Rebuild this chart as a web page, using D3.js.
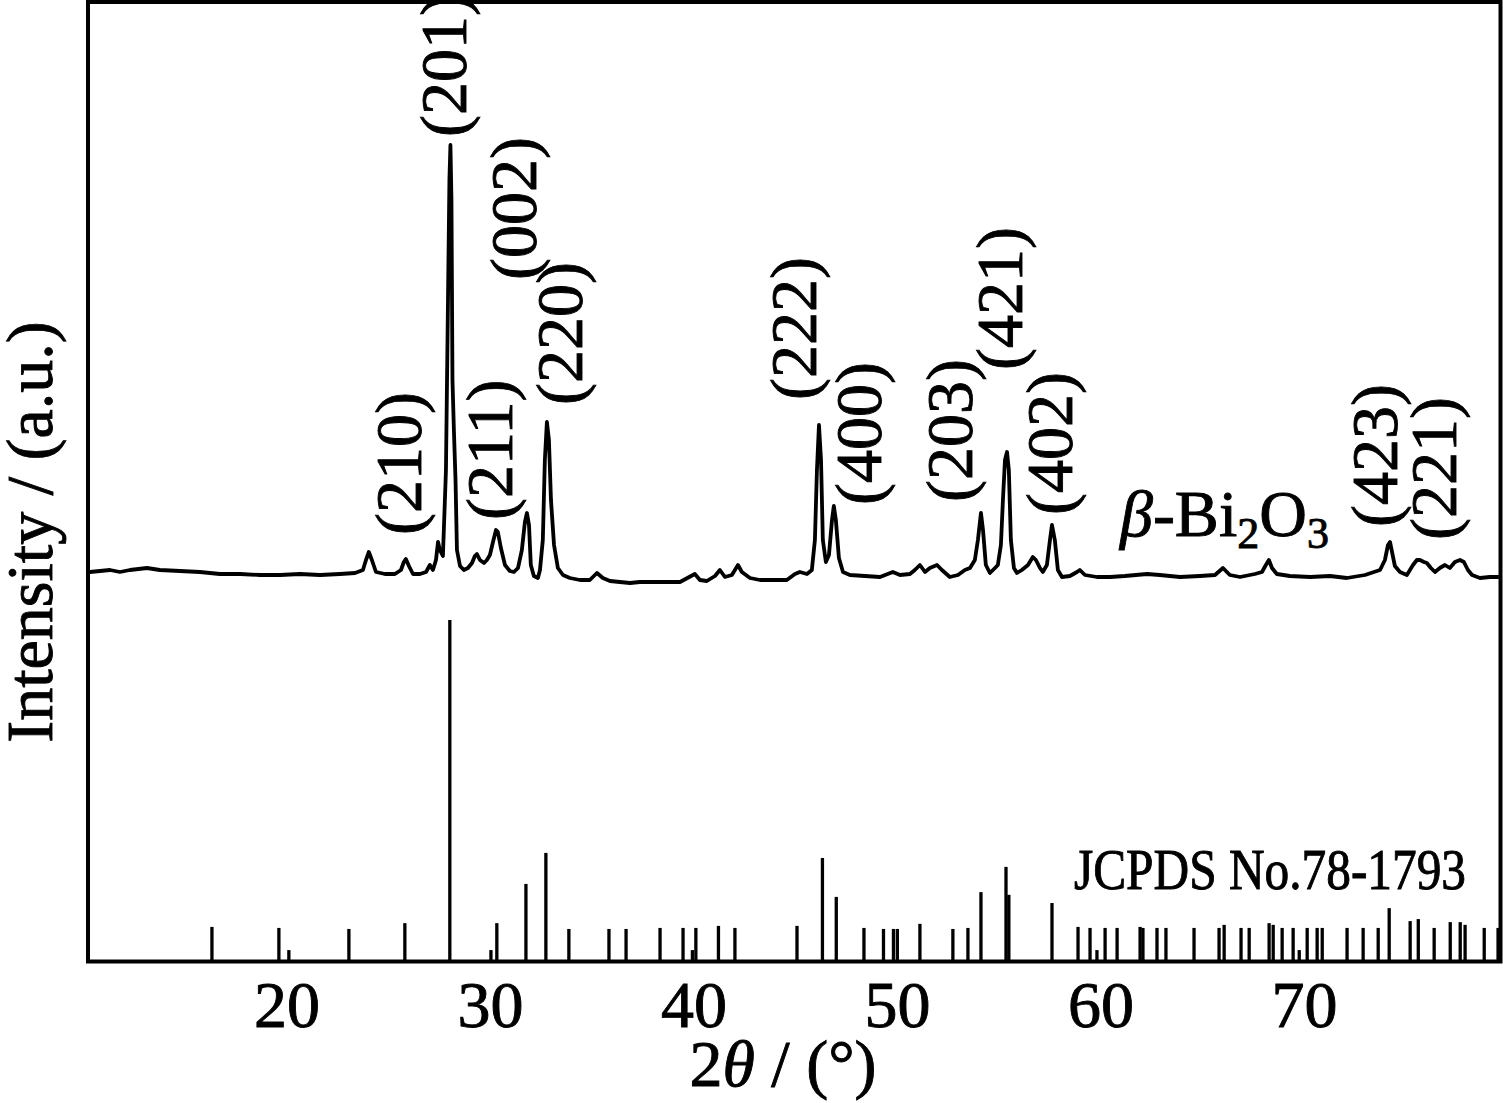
<!DOCTYPE html>
<html><head><meta charset="utf-8">
<script src="https://cdn.jsdelivr.net/npm/d3@7"></script>
<style>body{margin:0;background:#fff}</style>
</head><body>
<svg id="chart" width="1503" height="1103"></svg>
<script>
// ---- data ----
const tickValues = [20, 30, 40, 50, 60, 70];

// measured pattern: 2θ (deg) and intensity (a.u.)
const patternTheta = [10.33,10.83,11.32,11.81,12.30,13.14,13.77,14.76,15.74,16.72,17.71,18.69,19.67,20.65,21.64,22.62,23.36,23.75,23.90,24.04,24.19,24.39,24.83,25.32,25.62,25.76,25.86,26.01,26.21,26.55,26.85,27.04,27.19,27.34,27.44,27.53,27.68,27.83,27.93,28.00,28.05,28.10,28.15,28.22,28.30,28.37,28.52,28.71,28.91,29.11,29.25,29.35,29.50,29.70,29.84,29.99,30.14,30.29,30.38,30.53,30.73,30.97,31.17,31.37,31.56,31.71,31.81,31.91,32.00,32.15,32.35,32.45,32.59,32.69,32.79,32.89,32.99,33.14,33.33,33.58,33.92,34.41,34.90,35.25,35.54,35.89,36.38,36.87,37.36,38.34,39.33,40.06,40.31,40.65,41.05,41.29,41.54,41.88,42.18,42.37,42.77,43.26,43.75,44.58,44.98,45.22,45.57,45.81,45.96,46.06,46.16,46.26,46.35,46.50,46.65,46.80,46.89,46.99,47.14,47.34,47.68,48.42,49.16,49.79,50.14,50.63,50.87,51.12,51.37,51.61,51.96,52.20,52.59,52.99,53.33,53.58,53.82,53.97,54.12,54.22,54.36,54.56,54.81,54.95,55.10,55.20,55.30,55.40,55.49,55.59,55.74,55.89,56.13,56.43,56.67,56.82,57.02,57.16,57.36,57.51,57.61,57.75,57.90,58.10,58.49,58.84,58.98,59.23,59.82,60.46,61.19,62.28,62.91,63.90,64.88,65.62,66.01,66.35,66.85,67.58,67.93,68.12,68.27,68.42,68.66,69.30,70.29,71.27,72.10,72.99,73.73,73.97,74.12,74.22,74.32,74.46,74.71,75.05,75.35,75.54,75.69,75.89,76.03,76.23,76.43,76.67,76.92,77.16,77.41,77.66,77.85,78.05,78.25,78.64,79.13,79.57];
const patternIntensity = [389,390,391,389,391,393,391,390,389,387,387,386,386,387,386,387,388,391,401,409,401,389,387,387,391,399,402,395,387,387,389,396,391,401,419,411,405,491,661,781,816,761,581,531,481,411,395,391,393,398,405,407,401,398,401,406,419,431,429,413,396,390,389,393,411,439,448,436,396,385,383,391,421,501,539,521,461,416,393,386,383,381,381,388,383,380,379,378,379,379,379,387,381,380,385,391,384,386,396,389,383,381,381,381,387,389,387,391,421,491,536,501,421,399,406,441,455,441,403,389,386,385,384,389,386,387,391,396,389,393,396,391,384,386,391,393,401,421,448,431,396,388,393,396,416,461,501,509,491,421,393,388,391,396,404,401,393,389,396,421,436,421,391,384,385,389,391,386,384,384,385,387,386,384,385,386,393,386,384,387,389,396,401,393,387,385,384,385,383,386,391,401,416,419,409,395,389,386,396,401,401,399,398,393,389,393,396,393,399,401,399,391,386,383,384,384];

// JCPDS No.78-1793 reference lines: 2θ (deg) and relative intensity (%)
const refTheta = [16.33,19.62,20.11,23.06,25.81,28.02,30.04,30.33,31.76,32.74,33.87,35.84,36.68,38.35,39.48,39.94,40.11,41.22,42.03,45.08,46.33,47.01,48.37,49.33,49.82,50.01,51.12,52.74,53.48,54.12,55.35,55.49,57.61,58.89,59.48,59.82,60.22,60.81,61.94,62.08,62.77,63.21,64.59,65.82,66.07,66.90,67.30,68.28,68.48,68.92,69.46,69.76,70.15,70.64,70.89,72.11,72.90,73.64,74.18,75.21,75.61,76.39,77.18,77.67,77.91,78.85,79.53];
const refIntensity = [10.0,9.7,3.2,9.4,11.1,100,3.2,11.1,22.6,31.7,9.4,9.4,9.4,9.7,9.7,3.2,9.7,10.3,9.7,10.3,30.2,18.8,9.7,9.4,9.4,9.4,10.9,9.4,9.7,20.2,27.6,19.4,17.0,10.0,9.7,3.2,9.7,9.7,10.0,9.7,9.7,9.7,9.7,9.7,10.6,9.7,9.7,11.1,10.6,9.7,9.7,3.2,9.7,9.7,9.7,9.7,9.7,9.7,15.5,11.7,12.3,9.7,11.4,11.4,10.6,9.7,9.7];

// peak (hkl) annotations: text, 2θ of label centre, intensity at label foot
const peakLabels = ["(210)","(201)","(211)","(002)","(220)","(222)","(400)","(203)","(421)","(402)","(423)","(221)"];
const peakLabelTheta = [25.81,28.02,30.24,31.46,33.68,45.22,48.42,52.89,55.35,57.80,73.73,76.67];
const peakLabelIntensity = [426,824,441,681,556,561,456,459,591,446,434,421];

// ---- drawing ----
const FONT = "'Times New Roman','Liberation Serif',serif";
const svg = d3.select("#chart");
const pLeft = 88, pRight = 1500.5, pTop = 2, pBottom = 961.5;

const x = d3.scaleLinear().domain([10.24, 79.65]).range([pLeft, pRight]);
const yPat = d3.scaleLinear().domain([0, 960]).range([961, 1]);
const yRef = d3.scaleLinear().domain([0, 100]).range([961, 620]);

function txt(sel) {
  return sel.attr("font-family", FONT).attr("fill", "#000")
    .attr("stroke", "#000").attr("stroke-width", 0.9);
}

// reference sticks
svg.append("g").selectAll("line").data(refTheta).join("line")
  .attr("x1", d => x(d)).attr("x2", d => x(d))
  .attr("y1", yRef(0)).attr("y2", (d, i) => yRef(refIntensity[i]))
  .attr("stroke", "#000").attr("stroke-width", 3.3);

// measured pattern
const pts = patternTheta.map((t, i) => [t, patternIntensity[i]]);
svg.append("path").datum(pts)
  .attr("fill", "none").attr("stroke", "#000").attr("stroke-width", 3.8)
  .attr("stroke-linejoin", "round")
  .attr("d", d3.line().x(d => x(d[0])).y(d => yPat(d[1])));

// peak labels
txt(svg.append("g").selectAll("text").data(peakLabels).join("text")
  .attr("transform", (d, i) => `translate(${x(peakLabelTheta[i])},${yPat(peakLabelIntensity[i])}) rotate(-90)`)
  .attr("dy", "0.25em")
  .attr("font-size", 66)
  .text(d => d));

// phase label
const phase = txt(svg.append("text").attr("x", 1120).attr("y", 536).attr("font-size", 66));
phase.append("tspan").attr("font-style", "italic").text("β");
phase.append("tspan").text("-Bi");
phase.append("tspan").attr("font-size", 44).attr("dy", 12).text("2");
phase.append("tspan").attr("dy", -12).text("O");
phase.append("tspan").attr("font-size", 44).attr("dy", 12).text("3");

// JCPDS label
txt(svg.append("text").attr("x", 1466).attr("y", 889).attr("text-anchor", "end")
  .attr("font-size", 56)
  .attr("textLength", 392).attr("lengthAdjust", "spacingAndGlyphs")
  .text("JCPDS No.78-1793"));

// frame
svg.append("rect").attr("x", pLeft).attr("y", pTop)
  .attr("width", pRight - pLeft).attr("height", pBottom - pTop)
  .attr("fill", "none").attr("stroke", "#000").attr("stroke-width", 4);

// x axis ticks (labels only)
const xAxis = d3.axisBottom(x).tickValues(tickValues).tickSize(0).tickFormat(d3.format("d"));
const gx = svg.append("g").attr("transform", `translate(0,${pBottom})`).call(xAxis);
gx.select(".domain").remove();
txt(gx.selectAll("text").attr("y", 65).attr("dy", 0).attr("font-size", 66));

// axis titles
const xt = txt(svg.append("text").attr("x", 783).attr("y", 1086).attr("text-anchor", "middle")
  .attr("font-size", 66));
xt.append("tspan").text("2");
xt.append("tspan").attr("font-style", "italic").text("θ");
xt.append("tspan").text(" / (°)");

txt(svg.append("text").attr("transform", "translate(52,532) rotate(-90)")
  .attr("text-anchor", "middle").attr("font-size", 66)
  .text("Intensity / (a.u.)"));
</script>
</body></html>
